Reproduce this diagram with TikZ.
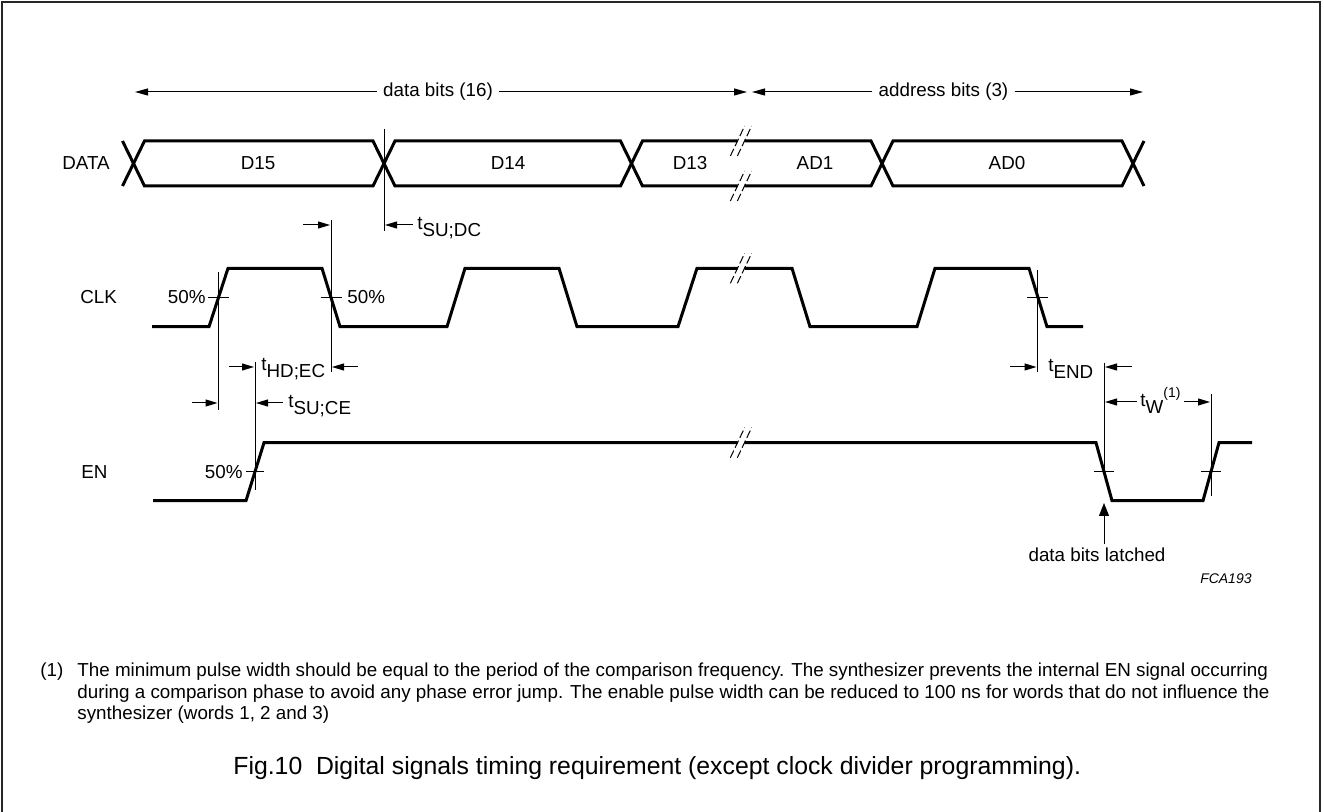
\documentclass[tikz,border=0pt]{standalone}
\usepackage{fontspec}
\setmainfont{Liberation Sans}
\usetikzlibrary{arrows.meta}
\newcommand\lowsub[1]{\raisebox{-3.5pt}{#1}}
\begin{document}
\begin{tikzpicture}[x=0.5pt,y=-0.5pt,
  wave/.style={line width=1.5pt, line join=miter},
  thinline/.style={line width=0.5pt},
  dimarrow/.style={line width=0.5pt,-{Triangle[length=6pt,width=3.5pt]}},
  bigarrow/.style={line width=0.5pt,-{Triangle[length=6.5pt,width=3.5pt]}},
  brk/.style={line width=0.5pt, dash pattern=on 4pt off 1.5pt},
  lbl/.style={font=\fontsize{9.4}{11}\selectfont, inner sep=0pt},
  toplbl/.style={font=\fontsize{9.4}{11}\selectfont, inner sep=0pt, inner xsep=3pt},
  fn/.style={font=\fontsize{9.4}{11}\selectfont, inner sep=0pt},
  figcap/.style={font=\fontsize{12.4}{15}\selectfont, inner sep=0pt},
  tag/.style={font=\fontsize{7}{8}\selectfont\itshape, inner sep=0pt}]
\useasboundingbox (0,0) rectangle (1324,812);
% frame
\draw[line width=1pt, black!85] (2,812) -- (2,2) -- (1320,2) -- (1320,812);

% top dimension arrows
\node[toplbl] (dbits) at (438,92) {data bits (16)};
\coordinate (dL) at (135,92);
\coordinate (dR) at (747,92);
\draw[bigarrow] (dbits.west) -- (dL);
\draw[bigarrow] (dbits.east) -- (dR);
\node[toplbl] (abits) at (943.5,92) {address bits (3)};
\coordinate (aL) at (752,92);
\coordinate (aR) at (1143,92);
\draw[bigarrow] (abits.west) -- (aL);
\draw[bigarrow] (abits.east) -- (aR);

% signal names
\node[lbl, anchor=west] (data) at (62,163.5) {DATA};
\node[lbl, anchor=west] (clk) at (80,297.5) {CLK};
\node[lbl, anchor=west] (en) at (81,471.7) {EN};

% DATA bus
\draw[wave] (122.5,141)--(144.5,186)--(373,186)--(395,141)--(620.5,141)--(642.5,186)--(737.5,186);
\draw[wave] (744.5,186)--(871,186)--(893,141)--(1122,141)--(1144,186);
\draw[wave] (122.5,186)--(144.5,141)--(373,141)--(395,186)--(620.5,186)--(642.5,141)--(737.5,141);
\draw[wave] (744.5,141)--(871,141)--(893,186)--(1122,186)--(1144,141);
\node[lbl] (d15) at (258,163.5) {D15};
\node[lbl] (d14) at (508,163.5) {D14};
\node[lbl] (d13) at (690,163.5) {D13};
\node[lbl] (ad1) at (815,163.5) {AD1};
\node[lbl] (ad0) at (1007,163.5) {AD0};
% breaks on DATA
\draw[brk] (730.35,156) -- ++(14.3,-30);
\draw[brk] (737.35,156) -- ++(14.3,-30);
\draw[brk] (730.35,201) -- ++(14.3,-30);
\draw[brk] (737.35,201) -- ++(14.3,-30);

% CLK
\draw[wave] (152,326.7)--(209,326.7)--(228,268.3)--(322,268.3)--(340,326.7)--(447,326.7)--(465,268.3)--(559,268.3)--(577,326.7)--(678,326.7)--(697,268.3)--(737.5,268.3);
\draw[wave] (744.5,268.3)--(792,268.3)--(810,326.7)--(917,326.7)--(935,268.3)--(1029,268.3)--(1047,326.7)--(1083,326.7);
\draw[brk] (730.35,283.3) -- ++(14.3,-30);
\draw[brk] (737.35,283.3) -- ++(14.3,-30);

% EN
\draw[wave] (153,500.7)--(246,500.7)--(264,442.7)--(737.5,442.7);
\draw[wave] (744.5,442.7)--(1096,442.7)--(1112,500.7)--(1203,500.7)--(1219,442.7)--(1252,442.7);
\draw[brk] (730.35,457.7) -- ++(14.3,-30);
\draw[brk] (737.35,457.7) -- ++(14.3,-30);

% 50% ticks
\draw[thinline] (208,297.5) -- (229,297.5);
\draw[thinline] (320.5,297.5) -- (341.5,297.5);
\draw[thinline] (1027,297.5) -- (1048,297.5);
\draw[thinline] (246,471.7) -- (264,471.7);
\draw[thinline] (1094,471.7) -- (1114,471.7);
\draw[thinline] (1201,471.7) -- (1221,471.7);
\node[lbl, anchor=east] (p1) at (206,297.5) {50\%};
\node[lbl, anchor=west] (p2) at (347,297.5) {50\%};
\node[lbl, anchor=east] (p3) at (243,471.7) {50\%};

% vertical reference lines
\coordinate (v1t) at (384,129);   \coordinate (v1b) at (384,231);
\coordinate (v2t) at (331,220);   \coordinate (v2b) at (331,372);
\coordinate (v3t) at (218.5,272); \coordinate (v3b) at (218.5,410);
\coordinate (v4t) at (255,362);   \coordinate (v4b) at (255,490);
\coordinate (v5t) at (1037.5,270);\coordinate (v5b) at (1037.5,372);
\coordinate (v6t) at (1104,363);  \coordinate (v6b) at (1104,478);
\coordinate (v7t) at (1211,394);  \coordinate (v7b) at (1211,496);
\foreach \v in {1,...,7} {\draw[thinline] (v\v t) -- (v\v b);}

% t_SU;DC
\coordinate (a1s) at (303,225); \coordinate (a1e) at (330,225);
\draw[dimarrow] (a1s) -- (a1e);
\coordinate (a2s) at (413,225); \coordinate (a2e) at (385,225);
\draw[dimarrow] (a2s) -- (a2e);
\node[lbl, anchor=base west] (tsudc) at (417,230) {t\lowsub{SU;DC}};

% t_HD;EC
\coordinate (a3s) at (229,367); \coordinate (a3e) at (254,367);
\draw[dimarrow] (a3s) -- (a3e);
\coordinate (a4s) at (358,367); \coordinate (a4e) at (332,367);
\draw[dimarrow] (a4s) -- (a4e);
\node[lbl, anchor=base west] (thdec) at (261,371) {t\lowsub{HD;EC}};

% t_SU;CE
\coordinate (a5s) at (192,403); \coordinate (a5e) at (217.5,403);
\draw[dimarrow] (a5s) -- (a5e);
\coordinate (a6s) at (283,403); \coordinate (a6e) at (256,403);
\draw[dimarrow] (a6s) -- (a6e);
\node[lbl, anchor=base west] (tsuce) at (288,408) {t\lowsub{SU;CE}};

% t_END
\coordinate (a7s) at (1010,367); \coordinate (a7e) at (1036.5,367);
\draw[dimarrow] (a7s) -- (a7e);
\coordinate (a8s) at (1132,367); \coordinate (a8e) at (1105,367);
\draw[dimarrow] (a8s) -- (a8e);
\node[lbl, anchor=base west] (tend) at (1048,372) {t\lowsub{END}};

% t_w
\node[lbl, anchor=base west] (tw) at (1140,407) {t\lowsub{W}\raisebox{4.5pt}{\fontsize{7}{8}\selectfont(1)}};
\coordinate (a9e) at (1105,402);
\coordinate (a10e) at (1210,402);
\draw[dimarrow] (tw.west |- a9e) ++(-3,0) -- (a9e);
\draw[dimarrow] (tw.east |- a10e) ++(3,0) -- (a10e);

% data bits latched
\node[lbl] (latched) at (1097,555) {data bits latched};
\coordinate (lt) at (1104,503);
\draw[thinline,-{Triangle[length=6.5pt,width=5pt]}] (latched.north -| lt) ++(0,-4) -- (lt);

\node[tag, anchor=east] (fca) at (1252,579) {FCA193};

% footnote
\node[fn, anchor=base west] (fnmark) at (40,677) {(1)};
\node[fn, anchor=base west] (fnl1) at (77,677) {The minimum pulse width should be equal to the period of the comparison frequency. The synthesizer prevents the internal EN signal occurring};
\node[fn, anchor=base west] (fnl2) at (77,698) {during a comparison phase to avoid any phase error jump. The enable pulse width can be reduced to 100 ns for words that do not influence the};
\node[fn, anchor=base west] (fnl3) at (77,719) {synthesizer (words 1, 2 and 3)};

% caption
\node[figcap, anchor=base west] (caption) at (233,775) {Fig.10\ \ Digital signals timing requirement (except clock divider programming).};
\end{tikzpicture}
\end{document}
